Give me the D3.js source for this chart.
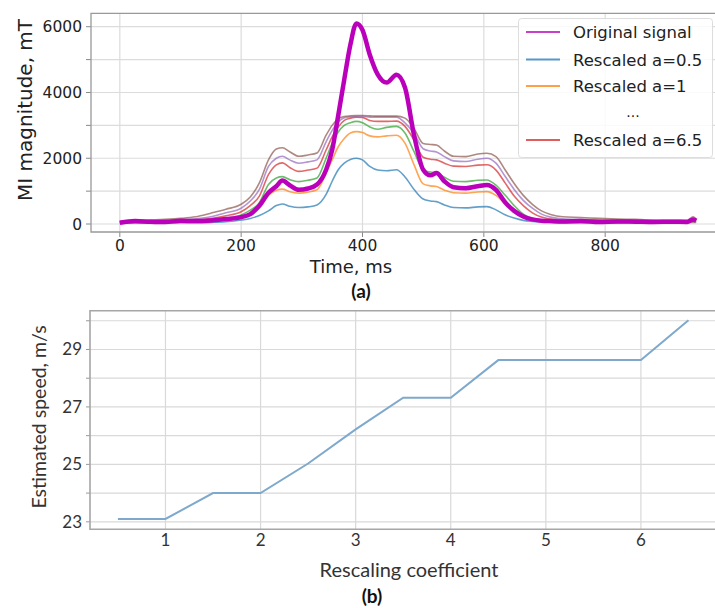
<!DOCTYPE html>
<html>
<head>
<meta charset="utf-8">
<script src="https://cdn.jsdelivr.net/npm/d3@7"></script>
<style>
  body { margin: 0; background: #fff; }
  svg { display: block; }
</style>
</head>
<body>
<svg id="chart" width="715" height="608"></svg>
<script>
// ---- panel (a) data: time (ms) and magnitudes (mT)
const time = [0,25,50,75,100,125,150,175, 200,215,230,245,258,268,280,295, 310,325,340,350,360,370,380,390,
  400,412,425,440,456,470,485,500, 512,522,535,550,570,590,605,620, 635,650,665,680,695,710,730,760,
  790,820,850,880,910,935,945,950];

const originalSignal = [40,90,70,60,100,90,110,150, 210,300,560,950,1150,1320,1180,1040, 1080,1200,1650,2250,3300,4400,5450,6100,
  5900,5150,4550,4300,4540,4150,2700,1650, 1480,1550,1300,1120,1090,1150,1190,1040, 660,400,230,140,100,90,80,90,
  60,80,70,60,70,60,140,100];

const rescaled1 = [20,30,30,30,40,40,50,70, 120,170,260,400,560,610,540,500, 520,580,900,1300,1650,1850,1960,2000,
  1950,1750,1640,1620,1650,1430,1050,760, 700,680,580,500,490,520,530,430, 280,180,110,80,60,50,40,40,
  40,40,40,40,40,40,50,50];
const rescaled2 = [40,50,50,50,60,60,80,120, 200,300,480,870,1030,1060,980,940, 970,1040,1550,1950,2350,2600,2770,2810,
  2780,2680,2650,2680,2700,2460,1800,1220, 1160,1140,1030,950,940,975,985,870, 620,400,230,140,100,80,70,70,
  60,60,60,60,60,60,70,70];
const rescaled3 = [50,60,60,70,80,90,110,170, 275,420,650,1200,1400,1440,1350,1290, 1330,1400,2000,2450,2800,3000,3080,3120,
  3080,2950,2880,2940,2970,2770,2200,1640, 1580,1550,1420,1300,1290,1330,1340,1180, 880,560,300,170,120,100,90,80,
  80,70,70,70,70,70,90,80];
const rescaled4 = [60,70,80,90,110,130,170,250, 375,560,850,1500,1800,1860,1720,1600, 1640,1700,2250,2650,2950,3150,3220,3250,
  3240,3150,3120,3120,3130,2970,2550,2030, 1970,1950,1850,1760,1750,1790,1800,1640, 1250,850,560,340,210,150,120,110,
  100,90,90,80,80,80,110,100];
const rescaled5 = [70,80,90,110,130,160,220,340, 480,700,1050,1750,2000,2060,1950,1850, 1890,1950,2500,2850,3100,3230,3260,3270,
  3270,3250,3250,3250,3250,3075,2750,2290, 2220,2190,2050,1920,1900,1970,2000,1850, 1450,1050,720,480,300,210,160,140,
  130,110,110,100,100,90,150,120];
const rescaled6 = [80,100,120,140,170,220,330,450, 600,820,1250,1950,2280,2320,2200,2060, 2100,2160,2700,3000,3200,3270,3290,3300,
  3300,3290,3280,3280,3280,3220,2900,2450, 2420,2400,2220,2060,2050,2130,2150,2050, 1650,1230,870,600,400,290,220,200,
  170,150,140,120,110,110,220,150];

const rescaledColors = ["#1f77b4", "#ff7f0e", "#2ca02c", "#d62728", "#9467bd", "#8c564b"];
const legendLabels = ["Original signal", "Rescaled a=0.5", "Rescaled a=1", "...", "Rescaled a=6.5"];

const timeTicks = [0, 200, 400, 600, 800];
const magTicks = [0, 2000, 4000, 6000];
const magGrid = [0, 1000, 2000, 3000, 4000, 5000, 6000];

// ---- panel (b) data
const coefficient = [0.5, 1, 1.5, 2, 2.5, 3, 3.5, 4, 4.5, 5, 5.5, 6, 6.5];
const speed = [23.1, 23.1, 24.0, 24.0, 25.03, 26.22, 27.32, 27.32, 28.63, 28.63, 28.63, 28.63, 30.02];
const coefTicks = [1, 2, 3, 4, 5, 6];
const speedTicks = [23, 25, 27, 29];
const speedGrid = [23, 24, 25, 26, 27, 28, 29, 30];

const svg = d3.select("#chart");
const mplFont = "DejaVu Sans, sans-serif";
const xlFont = "Lato, 'Open Sans', sans-serif";

// ================= panel (a)
const xA = d3.scaleLinear().domain([-47.5, 997.5]).range([91, 725]);
const yA = d3.scaleLinear().domain([-243, 6408]).range([232, 13.3]);

const gA = svg.append("g");

gA.selectAll("line.vg").data(timeTicks).join("line")
  .attr("x1", d => xA(d)).attr("x2", d => xA(d))
  .attr("y1", yA.range()[1]).attr("y2", yA.range()[0])
  .attr("stroke", "#dcdcdc").attr("stroke-width", 1.2);
gA.selectAll("line.hg").data(magGrid).join("line")
  .attr("x1", 91).attr("x2", 725)
  .attr("y1", d => yA(d)).attr("y2", d => yA(d))
  .attr("stroke", "#dcdcdc").attr("stroke-width", 1.2);

// tick marks
gA.selectAll("line.yt").data(magGrid).join("line")
  .attr("x1", 86).attr("x2", 91)
  .attr("y1", d => yA(d)).attr("y2", d => yA(d))
  .attr("stroke", "#888");
gA.selectAll("line.xt").data(timeTicks).join("line")
  .attr("x1", d => xA(d)).attr("x2", d => xA(d))
  .attr("y1", 232).attr("y2", 237)
  .attr("stroke", "#888");

const lineA = vals => d3.line()
  .x((d, i) => xA(time[i]))
  .y(d => yA(d))
  .curve(d3.curveMonotoneX)(vals);

const rescaledSeries = [rescaled1, rescaled2, rescaled3, rescaled4, rescaled5, rescaled6];
rescaledSeries.forEach((s, i) => {
  gA.append("path").attr("d", lineA(s))
    .attr("fill", "none").attr("stroke", rescaledColors[i])
    .attr("stroke-opacity", 0.7).attr("stroke-width", 1.6);
});
gA.append("path").attr("d", lineA(originalSignal))
  .attr("fill", "none").attr("stroke", "#bb00bb")
  .attr("stroke-width", 4.5).attr("stroke-linejoin", "round");

// frame
gA.append("path")
  .attr("d", "M725,13.3 H91 V232 H725")
  .attr("fill", "none").attr("stroke", "#999").attr("stroke-width", 1.3);

gA.selectAll("text.yl").data(magTicks).join("text")
  .attr("x", 82).attr("y", d => yA(d) + 5.5)
  .attr("text-anchor", "end").attr("font-family", mplFont).attr("font-size", 15.5)
  .attr("fill", "#222").text(d => d);
gA.selectAll("text.xl").data(timeTicks).join("text")
  .attr("x", d => xA(d)).attr("y", 251)
  .attr("text-anchor", "middle").attr("font-family", mplFont).attr("font-size", 15.5)
  .attr("fill", "#222").text(d => d);

gA.append("text")
  .attr("transform", "translate(32,110) rotate(-90)")
  .attr("text-anchor", "middle").attr("font-family", mplFont).attr("font-size", 20)
  .attr("fill", "#222").text("MI magnitude, mT");
gA.append("text")
  .attr("x", 351).attr("y", 273)
  .attr("text-anchor", "middle").attr("font-family", mplFont).attr("font-size", 18)
  .attr("fill", "#222").text("Time, ms");
gA.append("text")
  .attr("x", 361).attr("y", 298)
  .attr("text-anchor", "middle").attr("font-family", xlFont).attr("font-size", 19)
  .attr("font-weight", "bold").attr("fill", "#111").text("(a)");

// legend
const leg = gA.append("g");
leg.append("rect").attr("x", 518.5).attr("y", 18.5).attr("width", 194).attr("height", 139)
  .attr("rx", 3).attr("fill", "#fff").attr("fill-opacity", 0.85)
  .attr("stroke", "#ddd");
const legColors = ["#c840c8", rescaledColors[0], rescaledColors[1], null, rescaledColors[3]];
const legRows = [32, 59.5, 86, 113, 140];
legendLabels.forEach((lab, i) => {
  if (legColors[i]) {
    leg.append("line").attr("x1", 526).attr("x2", 560)
      .attr("y1", legRows[i]).attr("y2", legRows[i])
      .attr("stroke", legColors[i]).attr("stroke-opacity", i === 0 ? 1 : 0.75)
      .attr("stroke-width", 2);
    leg.append("text").attr("x", 573).attr("y", legRows[i] + 6)
      .attr("font-family", mplFont).attr("font-size", 16.5).attr("fill", "#222").text(lab);
  } else {
    leg.append("text").attr("x", 633).attr("y", legRows[i] + 4)
      .attr("text-anchor", "middle")
      .attr("font-family", mplFont).attr("font-size", 14).attr("fill", "#222").text(lab);
  }
});

// ================= panel (b)
const xB = d3.scaleLinear().domain([0.2, 6.8]).range([89.4, 717]);
const yB = d3.scaleLinear().domain([22.74, 30.35]).range([529.3, 310.7]);
const gB = svg.append("g");

gB.selectAll("line.vg").data(coefTicks).join("line")
  .attr("x1", d => xB(d)).attr("x2", d => xB(d))
  .attr("y1", 310.7).attr("y2", 529.3)
  .attr("stroke", "#d9d9d9").attr("stroke-width", 1.2);
gB.selectAll("line.hg").data(speedGrid).join("line")
  .attr("x1", 90).attr("x2", 717)
  .attr("y1", d => yB(d)).attr("y2", d => yB(d))
  .attr("stroke", "#d9d9d9").attr("stroke-width", 1.2);
gB.selectAll("line.yt").data(speedGrid).join("line")
  .attr("x1", 86).attr("x2", 90)
  .attr("y1", d => yB(d)).attr("y2", d => yB(d))
  .attr("stroke", "#999");

gB.append("path")
  .attr("d", "M717,310.7 H90 V529.3 H717")
  .attr("fill", "none").attr("stroke", "#a6a6a6").attr("stroke-width", 1.6);

gB.append("path")
  .datum(speed)
  .attr("d", d3.line().x((d, i) => xB(coefficient[i])).y(d => yB(d)))
  .attr("fill", "none").attr("stroke", "#7fa9cc").attr("stroke-width", 2);

gB.selectAll("text.yl").data(speedTicks).join("text")
  .attr("x", 82).attr("y", d => yB(d) + 6)
  .attr("text-anchor", "end").attr("font-family", xlFont).attr("font-size", 17)
  .attr("fill", "#333").text(d => d);
gB.selectAll("text.xl").data(coefTicks).join("text")
  .attr("x", d => xB(d)).attr("y", 546)
  .attr("text-anchor", "middle").attr("font-family", xlFont).attr("font-size", 17)
  .attr("fill", "#333").text(d => d);

gB.append("text")
  .attr("transform", "translate(46,417) rotate(-90)")
  .attr("text-anchor", "middle").attr("font-family", xlFont).attr("font-size", 19.5)
  .attr("fill", "#333").text("Estimated speed, m/s");
gB.append("text")
  .attr("x", 409).attr("y", 577)
  .attr("text-anchor", "middle").attr("font-family", xlFont).attr("font-size", 20)
  .attr("fill", "#333").text("Rescaling coefficient");
gB.append("text")
  .attr("x", 372).attr("y", 603)
  .attr("text-anchor", "middle").attr("font-family", xlFont).attr("font-size", 19)
  .attr("font-weight", "bold").attr("fill", "#111").text("(b)");
</script>
</body>
</html>
